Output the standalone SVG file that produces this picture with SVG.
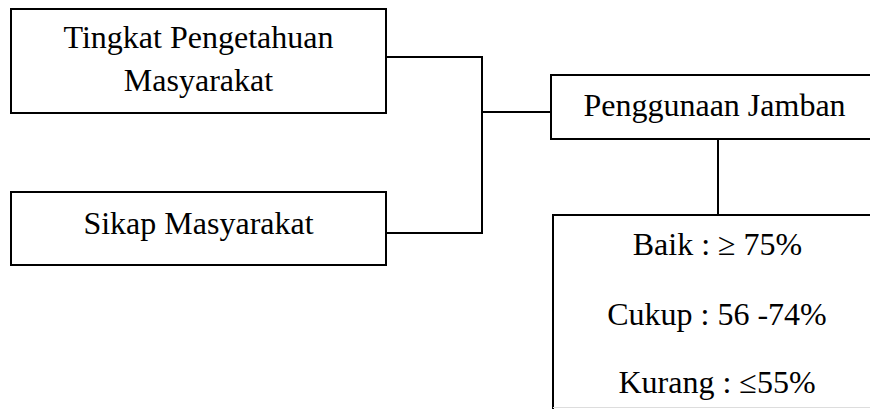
<svg xmlns="http://www.w3.org/2000/svg" width="870" height="409" viewBox="0 0 870 409">
<style>
.box{fill:#fff;stroke:#000;stroke-width:2}
.con{fill:none;stroke:#000;stroke-width:2}
text{font-family:"Liberation Serif","Times New Roman",serif;font-size:32px;fill:#000;text-anchor:middle}
</style>
<rect width="870" height="409" fill="#fff"/>
<g id="connectors">
<polyline class="con" points="386,57 482,57 482,233 386,233"/>
<line class="con" x1="482" y1="112" x2="551" y2="112"/>
<line class="con" x1="718" y1="139" x2="718" y2="215"/>
</g>
<g id="node-pengetahuan">
<rect class="box" x="11" y="9" width="375" height="104"/>
<text x="198.5" y="48">Tingkat Pengetahuan</text>
<text x="198.5" y="91">Masyarakat</text>
</g>
<g id="node-sikap">
<rect class="box" x="11" y="192" width="375" height="73"/>
<text x="198.5" y="234">Sikap Masyarakat</text>
</g>
<g id="node-penggunaan">
<rect class="box" x="551" y="75" width="330" height="64"/>
<text x="714.5" y="116">Penggunaan Jamban</text>
</g>
<g id="node-kategori">
<rect class="box" x="553" y="215" width="330" height="210"/>
<line x1="553" y1="407.5" x2="870" y2="407.5" stroke="#ddd" stroke-width="1"/>
<text x="717.5" y="255">Baik : ≥ 75%</text>
<text x="717" y="325">Cukup : 56 -74%</text>
<text x="717" y="393">Kurang : ≤55%</text>
</g>
</svg>
